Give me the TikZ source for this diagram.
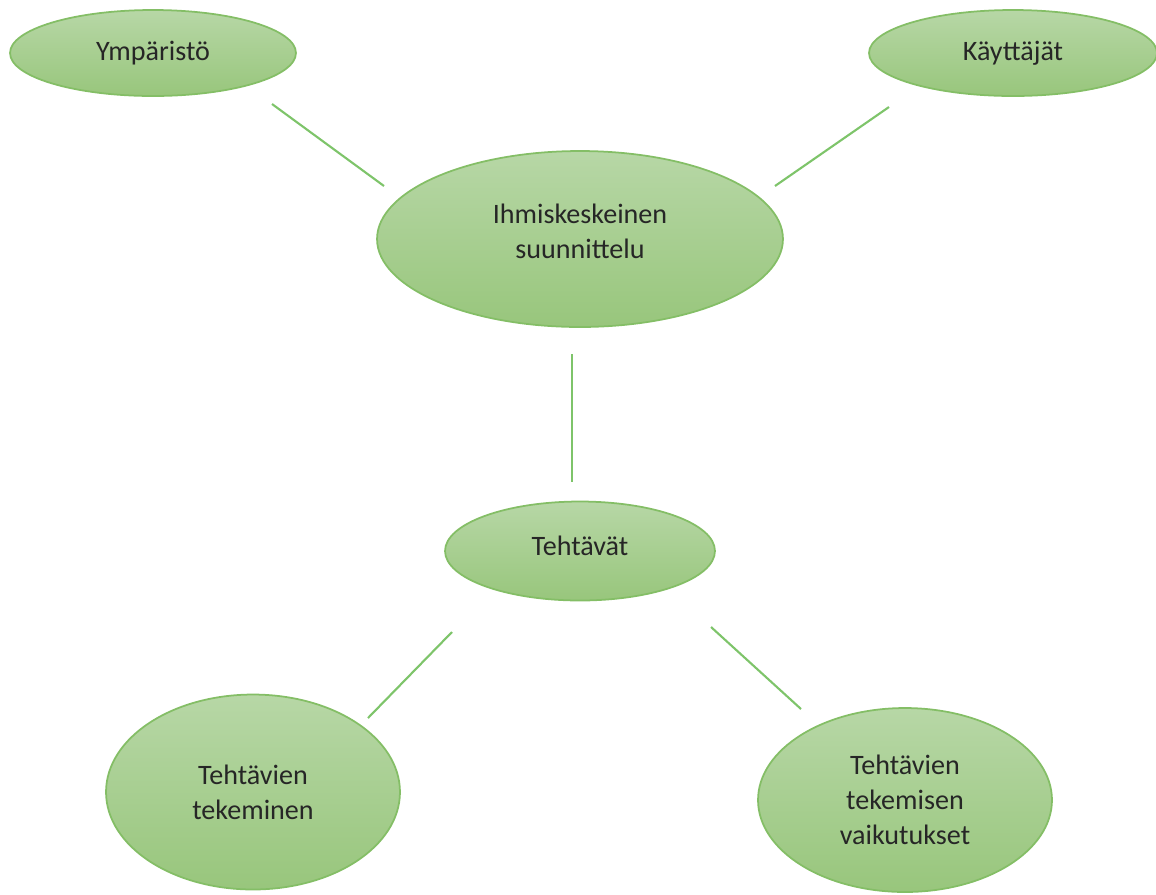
\documentclass[tikz,border=0pt]{standalone}
\usepackage{fontspec}
\setmainfont{Carlito}
\usepackage{tikz}
\usetikzlibrary{shapes.geometric, positioning}
\definecolor{colorTop}{RGB}{183,215,166}
\definecolor{colorBottom}{RGB}{152,198,124}
\definecolor{colorRim}{RGB}{132,190,102}
\definecolor{colorLink}{RGB}{126,196,106}
\tikzset{
  topic/.style={ellipse, draw=colorRim, line width=1pt, top color=colorTop, bottom color=colorBottom,
    inner sep=0pt, align=center, font=\fontsize{16}{20}\selectfont, text=black!85},
  link/.style={colorLink, line width=1.2pt}
}

\begin{document}
\begin{tikzpicture}[x=0.02cm, y=-0.02cm]
\useasboundingbox (0,0) rectangle (1156,894);
\node[topic, minimum width=5.72cm, minimum height=1.72cm] (env) at (153,53) {Ympäristö};
\node[topic, minimum width=5.76cm, minimum height=1.72cm] (users) at (1013,53) {Käyttäjät};
\node[topic, minimum width=8.12cm, minimum height=3.52cm] (hcd) at (580,239) {Ihmiskeskeinen\\suunnittelu\\[-11pt]};
\node[topic, minimum width=5.4cm, minimum height=1.98cm] (tasks) at (580,551) {Tehtävät\\[-14pt]};
\node[topic, minimum width=5.88cm, minimum height=3.9cm] (doing) at (253,792) {Tehtävien\\tekeminen};
\node[topic, minimum width=5.88cm, minimum height=3.68cm] (effects) at (905,800) {Tehtävien\\tekemisen\\vaikutukset};
% loose ends of the links
\coordinate (env-e) at (272,104);
\coordinate (hcd-nw) at (384,186);
\coordinate (users-e) at (889,107);
\coordinate (hcd-ne) at (775,186);
\coordinate (hcd-s) at (572,354);
\coordinate (tasks-n) at (572,482);
\coordinate (tasks-sw) at (452,632);
\coordinate (doing-n) at (368,718);
\coordinate (tasks-se) at (711,627);
\coordinate (effects-n) at (801,709);
\draw[link] (env-e) -- (hcd-nw);
\draw[link] (users-e) -- (hcd-ne);
\draw[link] (hcd-s) -- (tasks-n);
\draw[link] (tasks-sw) -- (doing-n);
\draw[link] (tasks-se) -- (effects-n);
\end{tikzpicture}
\end{document}
